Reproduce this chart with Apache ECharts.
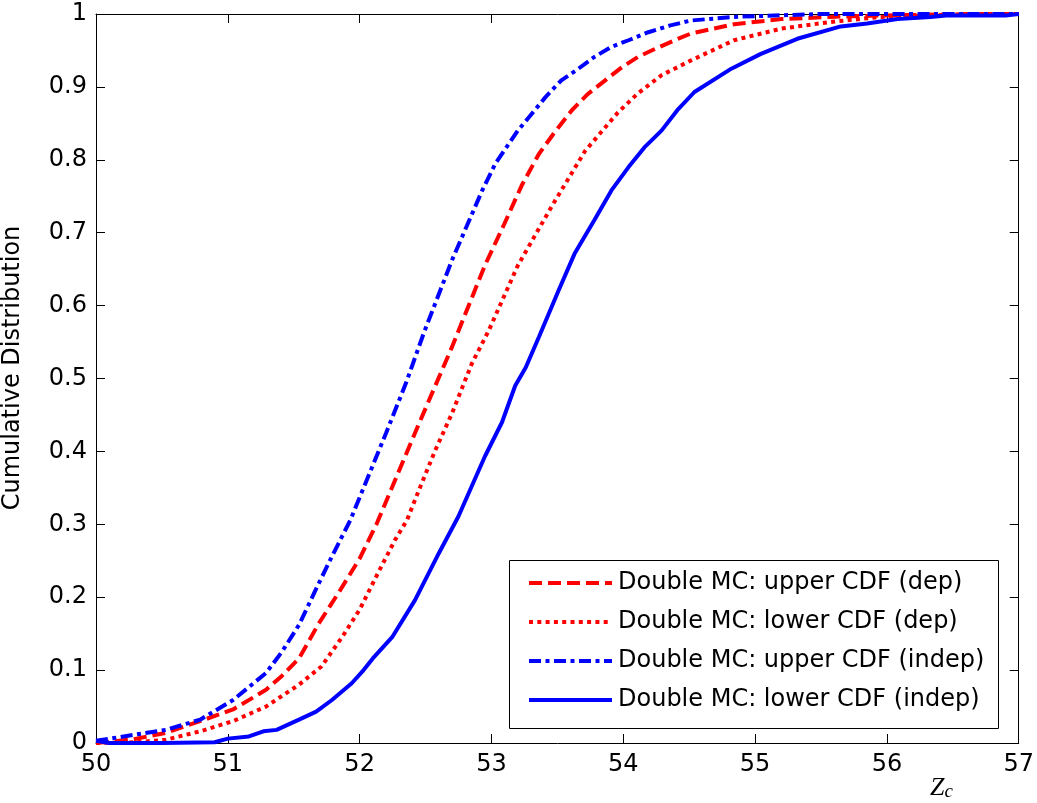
<!DOCTYPE html>
<html>
<head>
<meta charset="utf-8">
<script src="https://cdn.jsdelivr.net/npm/echarts@6/dist/echarts.min.js"></script>
<style>html,body{margin:0;padding:0;background:#fff}#c{width:1037px;height:803px}</style>
</head>
<body>
<div id="c"></div>
<script>
// ---- data ----
const seriesNames = [
  'Double MC: upper CDF (dep)',
  'Double MC: lower CDF (dep)',
  'Double MC: upper CDF (indep)',
  'Double MC: lower CDF (indep)'
];
const xTicks = [50, 51, 52, 53, 54, 55, 56, 57];
const yTicks = [0, 0.1, 0.2, 0.3, 0.4, 0.5, 0.6, 0.7, 0.8, 0.9, 1];

const upperDepX = [50.0, 50.28, 50.53, 50.79, 51.04, 51.29, 51.41, 51.54, 51.69, 51.84, 52.00, 52.13, 52.45, 52.70, 52.95, 53.10, 53.23, 53.36, 53.48, 53.61, 53.73, 53.87, 53.99, 54.11, 54.24, 54.39, 54.51, 54.84, 55.20, 55.57, 55.95, 56.30, 56.60, 57.0];
const upperDepY = [0.0, 0.005, 0.014, 0.030, 0.046, 0.073, 0.092, 0.116, 0.164, 0.206, 0.253, 0.301, 0.438, 0.543, 0.655, 0.713, 0.765, 0.808, 0.838, 0.868, 0.890, 0.910, 0.927, 0.941, 0.952, 0.964, 0.973, 0.986, 0.993, 0.996, 0.998, 0.999, 1.0, 1.0];

const lowerDepX = [50.0, 50.30, 50.53, 50.79, 51.04, 51.29, 51.54, 51.71, 51.87, 52.00, 52.15, 52.27, 52.36, 52.45, 52.57, 52.70, 52.85, 52.98, 53.20, 53.46, 53.71, 53.96, 54.11, 54.29, 54.51, 54.84, 55.20, 55.57, 55.95, 56.33, 56.60, 57.0];
const lowerDepY = [0.0, 0.001, 0.0045, 0.016, 0.030, 0.050, 0.080, 0.105, 0.146, 0.183, 0.237, 0.279, 0.306, 0.347, 0.400, 0.452, 0.520, 0.566, 0.655, 0.737, 0.812, 0.865, 0.891, 0.916, 0.936, 0.964, 0.980, 0.989, 0.996, 0.998, 1.0, 1.0];

const upperIndepX = [50.0, 50.28, 50.53, 50.79, 51.04, 51.29, 51.41, 51.54, 51.69, 51.79, 51.93, 52.20, 52.35, 52.49, 52.70, 52.93, 53.03, 53.20, 53.41, 53.53, 53.66, 53.78, 53.91, 54.04, 54.19, 54.35, 54.51, 54.84, 55.15, 55.50, 57.0];
const upperIndepY = [0.003, 0.011, 0.018, 0.032, 0.059, 0.096, 0.125, 0.162, 0.219, 0.256, 0.306, 0.425, 0.493, 0.564, 0.662, 0.758, 0.795, 0.840, 0.886, 0.909, 0.925, 0.941, 0.955, 0.964, 0.975, 0.984, 0.991, 0.996, 0.998, 1.0, 1.0];

const lowerIndepX = [50.0, 50.10, 50.50, 50.90, 51.00, 51.16, 51.27, 51.37, 51.54, 51.67, 51.79, 51.94, 52.03, 52.10, 52.25, 52.42, 52.60, 52.75, 52.95, 53.08, 53.18, 53.26, 53.36, 53.51, 53.63, 53.78, 53.91, 54.04, 54.16, 54.29, 54.41, 54.54, 54.82, 55.04, 55.32, 55.65, 55.85, 56.08, 56.33, 56.45, 56.90, 57.0];
const lowerIndepY = [0.003, 0.0, 0.0, 0.001, 0.006, 0.009, 0.016, 0.018, 0.032, 0.043, 0.059, 0.082, 0.100, 0.116, 0.146, 0.196, 0.260, 0.311, 0.393, 0.440, 0.490, 0.515, 0.557, 0.621, 0.671, 0.717, 0.758, 0.790, 0.817, 0.840, 0.868, 0.893, 0.925, 0.945, 0.966, 0.983, 0.987, 0.993, 0.996, 0.998, 0.998, 1.0];

// ---- chart ----
const pairs = (xs, ys) => xs.map((x, i) => [x, ys[i]]);
const FONT = 'DejaVu Sans';
const LW = 4;
const chart = echarts.init(document.getElementById('c'), null, {renderer: 'canvas'});

const axisCommon = {
  axisLine: {show: true, onZero: false, lineStyle: {color: '#000', width: 1}},
  axisTick: {show: true, inside: true, length: 9, lineStyle: {color: '#000', width: 1}},
  splitLine: {show: false}
};

const lineSeries = (name, data, color, dash) => ({
  name, type: 'line', data, symbol: 'none', showSymbol: false, smooth: false,
  xAxisIndex: 0, yAxisIndex: 0, animation: false,
  lineStyle: {color, width: LW, type: dash},
  itemStyle: {color}
});

chart.setOption({
  backgroundColor: '#fff',
  animation: false,
  grid: {left: 96, right: 15, top: 14, bottom: 60, containLabel: false},
  xAxis: [
    Object.assign({}, axisCommon, {
      type: 'value', position: 'bottom', min: xTicks[0], max: xTicks[xTicks.length - 1], interval: 1,
      axisLabel: {color: '#000', fontSize: 24, fontFamily: FONT, margin: 10}
    }),
    Object.assign({}, axisCommon, {
      type: 'value', position: 'top', min: xTicks[0], max: xTicks[xTicks.length - 1], interval: 1,
      axisLabel: {show: false}
    })
  ],
  yAxis: [
    Object.assign({}, axisCommon, {
      type: 'value', position: 'left', min: yTicks[0], max: yTicks[yTicks.length - 1], interval: 0.1,
      axisLabel: {color: '#000', fontSize: 24, fontFamily: FONT, margin: 9,
        formatter: v => (Math.abs(v) < 1e-9 ? '0' : Math.abs(v - 1) < 1e-9 ? '1' : v.toFixed(1))}
    }),
    Object.assign({}, axisCommon, {
      type: 'value', position: 'right', min: yTicks[0], max: yTicks[yTicks.length - 1], interval: 0.1,
      axisLabel: {show: false}
    })
  ],
  legend: {
    orient: 'vertical', left: 527, top: 571, padding: 0,
    itemWidth: 83, itemHeight: 24, itemGap: 15,
    data: seriesNames,
    itemStyle: {opacity: 0, borderWidth: 0},
    lineStyle: {width: LW},
    textStyle: {color: '#000', fontSize: 24, fontFamily: FONT, lineHeight: 24, padding: [0, 0, 0, 1]},
    z: 10
  },
  graphic: [
    {type: 'rect', left: 509, top: 560, z: 5,
     shape: {width: 489, height: 168},
     style: {fill: '#fff', stroke: '#000', lineWidth: 1}},
    {type: 'text', x: 13, y: 368, rotation: Math.PI / 2, z: 5,
     style: {text: 'Cumulative Distribution', fontSize: 24, fontFamily: FONT, fill: '#000',
             align: 'center', verticalAlign: 'middle'}},
    {type: 'text', x: 930, y: 774, z: 5,
     style: {text: '{z|Z}{c|c}', fill: '#000',
       rich: {
         z: {fontSize: 26, fontFamily: 'Liberation Serif', fontStyle: 'italic', fill: '#000', verticalAlign: 'bottom'},
         c: {fontSize: 19, fontFamily: 'Liberation Serif', fontStyle: 'italic', fill: '#000', padding: [8, 0, 0, 0]}
       }}}
  ],
  series: [
    lineSeries(seriesNames[0], pairs(upperDepX, upperDepY), '#ff0000', [13, 6]),
    lineSeries(seriesNames[1], pairs(lowerDepX, lowerDepY), '#ff0000', [4, 4.3]),
    lineSeries(seriesNames[2], pairs(upperIndepX, upperIndepY), '#0000ff', [12, 4.5, 4, 4.5]),
    lineSeries(seriesNames[3], pairs(lowerIndepX, lowerIndepY), '#0000ff', 'solid')
  ]
});
</script>
</body>
</html>
